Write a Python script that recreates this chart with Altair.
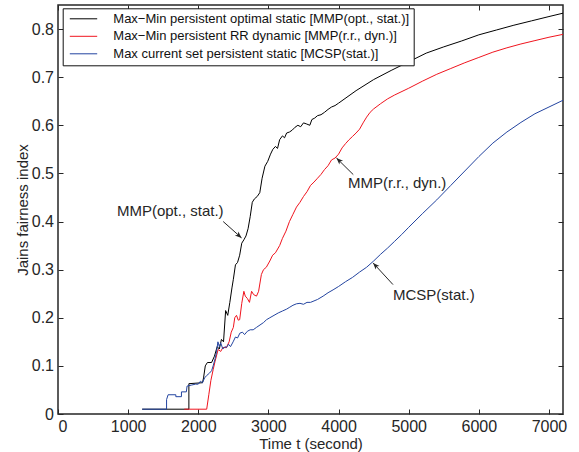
import math
import altair as alt
import pandas as pd

# Plot area size in pixels and axis extents
W, H = 505, 409
T_MAX, J_MAX = 7200, 0.85
FONT = "Liberation Sans"
INK = "#262626"

names = [
    "Max\u2212Min persistent optimal static [MMP(opt., stat.)]",
    "Max\u2212Min persistent RR dynamic [MMP(r.r., dyn.)]",
    "Max current set persistent static [MCSP(stat.)]",
]
colors = ["#000000", "#f0141e", "#2344a0"]

# Jain's fairness index against time for each scheme
opt_t = [1200, 1866, 1866, 2060, 2075, 2100, 2130, 2190, 2230, 2270, 2300, 2330, 2360, 2390,
         2420, 2450, 2480, 2500, 2530, 2560, 2590, 2620, 2650, 2680, 2710, 2740, 2770, 2800,
         2840, 2877, 2910, 2950, 2990, 3030, 3063, 3100, 3130, 3160, 3200, 3230, 3260, 3300,
         3340, 3380, 3420, 3460, 3500, 3540, 3590, 3620, 3660, 3700, 3750, 3800, 3850, 3900,
         3950, 4000, 4250, 4500, 4750, 5000, 5250, 5500, 5750, 6000, 6250, 6500, 6750, 7000, 7200]
opt_j = [0.010, 0.010, 0.063, 0.065, 0.075, 0.100, 0.107, 0.107, 0.120, 0.140, 0.135, 0.155,
         0.150, 0.215, 0.205, 0.232, 0.262, 0.280, 0.310, 0.315, 0.330, 0.355, 0.362, 0.370,
         0.385, 0.410, 0.440, 0.447, 0.452, 0.460, 0.490, 0.515, 0.525, 0.540, 0.550, 0.556,
         0.552, 0.570, 0.578, 0.574, 0.584, 0.586, 0.590, 0.596, 0.600, 0.597, 0.605, 0.603,
         0.600, 0.612, 0.615, 0.620, 0.622, 0.627, 0.633, 0.638, 0.641, 0.646, 0.672, 0.695,
         0.714, 0.732, 0.750, 0.763, 0.775, 0.788, 0.798, 0.808, 0.817, 0.826, 0.833]

rr_t = [1800, 2120, 2150, 2180, 2212, 2240, 2283, 2320, 2350, 2400, 2440, 2470, 2500, 2520,
        2545, 2570, 2590, 2620, 2650, 2670, 2700, 2730, 2760, 2790, 2830, 2860, 2900, 2930,
        2970, 3020, 3060, 3100, 3160, 3200, 3250, 3300, 3350, 3400, 3450, 3500, 3550, 3600,
        3650, 3700, 3750, 3800, 3850, 3900, 3950, 4000, 4050, 4100, 4150, 4200, 4250, 4300,
        4350, 4400, 4450, 4500, 4600, 4700, 4800, 5000, 5200, 5400, 5600, 5800, 6000, 6200,
        6400, 6600, 6800, 7000, 7200]
rr_j = [0.010, 0.010, 0.040, 0.070, 0.092, 0.110, 0.134, 0.130, 0.138, 0.138, 0.150, 0.170,
        0.180, 0.200, 0.205, 0.195, 0.196, 0.230, 0.255, 0.245, 0.240, 0.232, 0.255, 0.248,
        0.245, 0.255, 0.290, 0.300, 0.305, 0.318, 0.330, 0.335, 0.350, 0.365, 0.380, 0.400,
        0.415, 0.430, 0.440, 0.452, 0.462, 0.475, 0.482, 0.490, 0.498, 0.508, 0.516, 0.528,
        0.532, 0.540, 0.553, 0.562, 0.570, 0.577, 0.584, 0.592, 0.605, 0.617, 0.627, 0.634,
        0.645, 0.655, 0.663, 0.677, 0.692, 0.706, 0.718, 0.730, 0.741, 0.752, 0.761, 0.769,
        0.776, 0.783, 0.789]

mcsp_t = [1200, 1548, 1548, 1570, 1680, 1680, 1760, 1760, 1830, 1840, 1900, 1960, 2000, 2030,
          2060, 2090, 2120, 2160, 2190, 2212, 2240, 2260, 2280, 2300, 2320, 2350, 2380, 2403,
          2430, 2460, 2497, 2530, 2560, 2593, 2630, 2660, 2700, 2740, 2783, 2830, 2880, 2930,
          2973, 3020, 3080, 3140, 3200, 3260, 3305, 3350, 3400, 3450, 3500, 3550, 3600, 3650,
          3700, 3780, 3850, 3922, 4000, 4100, 4200, 4300, 4400, 4500, 4600, 4700, 4800, 4900,
          5000, 5200, 5400, 5600, 5800, 6000, 6200, 6400, 6600, 6800, 7000, 7200]
mcsp_j = [0.010, 0.010, 0.030, 0.040, 0.040, 0.036, 0.036, 0.046, 0.046, 0.058, 0.060, 0.062,
          0.062, 0.068, 0.065, 0.075, 0.080, 0.085, 0.090, 0.100, 0.115, 0.128, 0.150, 0.140,
          0.148, 0.135, 0.140, 0.138, 0.145, 0.140, 0.150, 0.160, 0.158, 0.168, 0.170, 0.165,
          0.172, 0.175, 0.175, 0.180, 0.185, 0.190, 0.196, 0.200, 0.205, 0.210, 0.214, 0.218,
          0.222, 0.226, 0.229, 0.230, 0.228, 0.232, 0.232, 0.235, 0.238, 0.245, 0.252, 0.258,
          0.265, 0.275, 0.284, 0.295, 0.305, 0.318, 0.332, 0.345, 0.359, 0.373, 0.388, 0.417,
          0.445, 0.475, 0.505, 0.535, 0.563, 0.586, 0.606, 0.624, 0.638, 0.652]

x_ticks = [0, 1000, 2000, 3000, 4000, 5000, 6000, 7000]
y_ticks = [0, 0.1, 0.2, 0.3, 0.4, 0.5, 0.6, 0.7, 0.8]

# Callouts: label anchor, arrow tail and arrow tip in data units
notes = ["MMP(opt., stat.)", "MMP(r.r., dyn.)", "MCSP(stat.)"]
note_t = [840, 4135, 4776]
note_j = [0.421, 0.480, 0.248]
tail_t = [2355, 4210, 4776]
tail_j = [0.400, 0.4975, 0.269]
tip_t = [2617, 3970, 4492]
tip_j = [0.366, 0.532, 0.314]

frames = []
for name, ts, js in zip(names, [opt_t, rr_t, mcsp_t], [opt_j, rr_j, mcsp_j]):
    frames.append(pd.DataFrame({"t": ts, "j": js, "scheme": name}))
lines_df = pd.concat(frames, ignore_index=True)
lines_df["step"] = lines_df.index


def head_angle(t0, j0, t1, j1):
    dx = (t1 - t0) * W / T_MAX
    dy = -(j1 - j0) * H / J_MAX
    return math.degrees(math.atan2(dx, -dy)) % 360


arrows_df = pd.DataFrame({
    "tail_t": tail_t, "tail_j": tail_j, "tip_t": tip_t, "tip_j": tip_j,
    "angle": [head_angle(a, b, c, d) for a, b, c, d in zip(tail_t, tail_j, tip_t, tip_j)],
})
notes_df = pd.DataFrame({"note": notes, "note_t": note_t, "note_j": note_j})

x_scale = alt.Scale(domain=[0, T_MAX], nice=False, zero=False)
y_scale = alt.Scale(domain=[0, J_MAX], nice=False, zero=False)
color_scale = alt.Scale(domain=names, range=colors)

label_x_axis = alt.Axis(
    orient="bottom", values=x_ticks, format="d", grid=False, domain=False,
    ticks=False, tickSize=0, labelFont=FONT, labelFontSize=16, labelColor=INK,
    labelPadding=4, title="Time t (second)", titleFont=FONT, titleFontSize=15,
    titleFontWeight="normal", titleColor=INK, titleBaseline="alphabetic", titleY=34,
)
label_y_axis = alt.Axis(
    orient="left", values=y_ticks, format="~g", grid=False, domain=False,
    ticks=False, tickSize=0, labelFont=FONT, labelFontSize=16, labelColor=INK,
    labelPadding=4.5, title="Jains fairness index", titleFont=FONT, titleFontSize=15,
    titleFontWeight="normal", titleColor=INK, titleBaseline="alphabetic", titleX=-31,
)


def tick_axis(orient, values):
    # label-free axis pulled inside the frame so its ticks point inward
    return alt.Axis(orient=orient, values=values, offset=-5, tickSize=5, tickWidth=1,
                    tickColor=INK, labels=False, domain=False, grid=False, title=None)


legend = alt.Legend(
    orient="none", legendX=4.7, legendY=3.3, title=None,
    symbolType="M-2.74,0L2.74,0", symbolSize=100, symbolStrokeWidth=1,
    symbolOffset=10.3, labelOffset=23.3, labelFont=FONT, labelFontSize=13,
    labelColor="#111111", labelLimit=0, padding=4, rowPadding=3.5,
    strokeColor="#111111", fillColor="white", cornerRadius=0,
)

base = alt.Chart(lines_df)
line_layers = []
for i, name in enumerate(names):
    line_layers.append(
        base.transform_filter(alt.datum.scheme == name)
        .mark_line(strokeWidth=1, clip=True)
        .encode(
            x=alt.X("t:Q", scale=x_scale, axis=label_x_axis if i == 0 else None),
            y=alt.Y("j:Q", scale=y_scale, axis=label_y_axis if i == 0 else None),
            color=alt.Color("scheme:N", scale=color_scale, legend=legend),
            order="step:Q",
        )
    )

shafts = alt.Chart(arrows_df).mark_rule(color=INK, strokeWidth=1).encode(
    x=alt.X("tail_t:Q", scale=x_scale, axis=tick_axis("bottom", x_ticks)),
    y=alt.Y("tail_j:Q", scale=y_scale, axis=tick_axis("left", y_ticks)),
    x2="tip_t:Q",
    y2="tip_j:Q",
)

heads = alt.Chart(arrows_df).mark_point(
    shape="M0,0L-0.75,1.9L0,1.4L0.75,1.9Z", filled=True, size=49, color=INK, opacity=1,
).encode(
    x=alt.X("tip_t:Q", scale=x_scale, axis=None),
    y=alt.Y("tip_j:Q", scale=y_scale, axis=None),
    angle=alt.Angle("angle:Q", scale=None),
)

labels = alt.Chart(notes_df).mark_text(
    align="left", baseline="middle", font=FONT, fontSize=15, color=INK,
).encode(
    x=alt.X("note_t:Q", scale=x_scale, axis=tick_axis("top", x_ticks)),
    y=alt.Y("note_j:Q", scale=y_scale, axis=tick_axis("right", y_ticks)),
    text="note:N",
)

chart = (
    alt.layer(*line_layers, shafts, heads, labels)
    .resolve_axis(x="independent", y="independent")
    .properties(
        width=W, height=H,
        autosize=alt.AutoSizeParams(type="none"),
        padding={"left": 58, "top": 5, "right": 16, "bottom": 38},
        background="white",
    )
    .configure(font=FONT)
    .configure_view(stroke=INK, strokeWidth=1.5)
)

chart.save("out.html", embed_options={"renderer": "svg", "actions": False})
